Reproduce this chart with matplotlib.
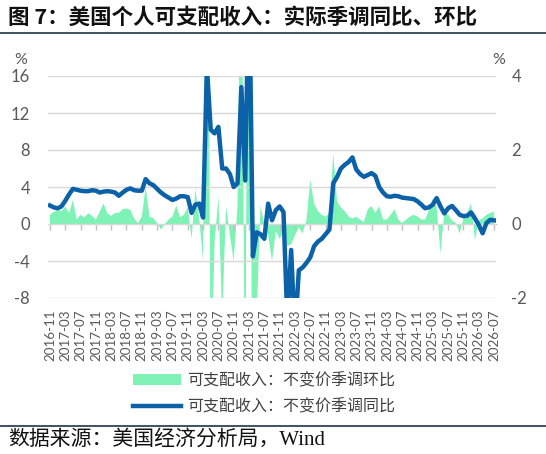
import matplotlib
matplotlib.use("Agg")
import matplotlib.pyplot as plt
from matplotlib.lines import Line2D
import numpy as np
import pandas as pd

# ---------------- data ----------------
months = [str(p) for p in pd.period_range("2016-11", "2026-07", freq="M")]

yoy = [2.0, 1.8, 1.7, 1.9, 2.5, 3.2, 3.8, 3.7, 3.6, 3.55,
       3.55, 3.65, 3.6, 3.4, 3.5, 3.55, 3.5, 3.4, 3.05, 3.4,
       3.7, 3.85, 3.65, 3.6, 3.6, 4.85, 4.4, 4.2, 3.8, 3.4,
       3.1, 2.85, 2.6, 2.75, 3.0, 3.0, 2.9, 1.2, 2.1, 2.2,
       0.7, 17.0, 10.2, 9.8, 10.5, 6.0, 6.0, 5.4, 4.0, 4.4,
       14.8, 4.7, 28.0, -3.5, -0.9, -1.1, -1.6, 2.2, 0.4, 1.5,
       1.9, 1.3, -10.5, -2.8, -12.0, -5.0, -4.7, -4.2, -3.6, -2.4,
       -1.9, -1.6, -1.1, -0.6, 4.4, 5.1, 6.0, 6.4, 6.7, 7.2,
       5.9, 5.4, 5.1, 5.3, 5.5, 5.2, 4.0, 3.4, 3.0, 2.95,
       3.05, 3.0, 2.85, 2.8, 2.75, 2.7, 2.45, 2.1, 1.7, 1.8,
       2.1, 2.8, 1.9, 1.15, 1.7, 1.95, 1.5, 1.0, 0.85, 0.9,
       1.25, 0.6, -0.1, -1.0, 0.1, 0.45, 0.4]

mom = [0.25, 0.33, 0.38, 0.35, 0.47, 0.3, 0.65, 0.12, 0.25, 0.18,
       0.29, 0.22, 0.12, 0.33, 0.56, 0.28, 0.22, 0.3, 0.3, 0.4,
       0.42, 0.38, 0.15, 0.02, 0.2, 1.0, 0.2, 0.16, 0.03, -0.15,
       0.0, 0.12, 0.2, 0.5, 0.18, 0.25, 0.45, -0.4, 0.95, 0.15,
       -1.0, 13.0, -4.5, -0.5, 0.75, -2.6, 0.47, -0.3, -1.0, 0.5,
       10.0, -7.0, 20.0, -13.0, -2.5, 0.5, 0.0, -0.3, -1.0, -0.2,
       -0.4, -0.2, -0.6, -0.55, -0.3, -0.1, -0.25, 0.1, 1.2, 0.55,
       0.35, 0.25, 0.2, 0.3, 1.9, 0.6, 0.45, 0.35, 0.2, 0.15,
       0.2, 0.12, 0.05, 0.4, 0.48, 0.3, 0.48, 0.12, 0.12, 0.25,
       0.4, 0.12, 0.03, 0.12, 0.2, 0.25, 0.2, 0.12, 0.12, 0.38,
       0.7, 0.45, -0.8, 0.3, 0.25, 0.1, 0.03, -0.25, 0.15, 0.3,
       0.56, -0.43, 0.1, 0.15, 0.25, 0.3, 0.33]

left_ticks = [-8, -4, 0, 4, 8, 12, 16]
right_ticks = [-2, 0, 2, 4]

title = "图 7：美国个人可支配收入：实际季调同比、环比"
label_mom = "可支配收入：不变价季调环比"
label_yoy = "可支配收入：不变价季调同比"
source = "数据来源：美国经济分析局，Wind"

# ---------------- style ----------------
GREEN = "#7FF2B6"
BLUE = "#0B62A8"
GRID = "#D9D9D9"
TXT = "#595959"
CJK = ["Noto Sans CJK SC", "DejaVu Sans"]

plt.rcParams["font.family"] = ["Lato", "Noto Sans CJK SC", "DejaVu Sans"]

fig = plt.figure(figsize=(5.46, 4.54), dpi=100)
ax = fig.add_axes([48 / 546, 1 - 298 / 454, 448 / 546, 222 / 454])
ax2 = ax.twinx()

x = np.arange(len(months))

ax2.fill_between(x, 0, mom, color=GREEN, linewidth=0, label=label_mom)
ax.plot(x, yoy, color=BLUE, lw=3.2, solid_joinstyle="round", label=label_yoy)

ax.set_zorder(ax2.get_zorder() + 1)
ax.patch.set_visible(False)

ax.set_xlim(-0.5, len(months) - 0.5)
ax.set_ylim(-8, 16)
ax2.set_ylim(-2, 4)
ax.set_yticks(left_ticks)
ax2.set_yticks(right_ticks)
ax.set_yticklabels([str(t) for t in left_ticks])
ax2.set_yticklabels([str(t) for t in right_ticks])

ax.yaxis.grid(True, color=GRID, lw=1)
ax.set_axisbelow(True)

tick_pos = x[::4]
ax.set_xticks(tick_pos)
ax.set_xticklabels([months[i] for i in tick_pos], rotation=90)
ax.tick_params(axis="x", length=0, pad=8, labelsize=9.6, labelcolor=TXT)
ax.tick_params(axis="y", length=0, pad=13, labelsize=12, labelcolor=TXT)
ax2.tick_params(axis="y", length=0, pad=11, labelsize=12, labelcolor=TXT)

for a in (ax, ax2):
    for s in a.spines.values():
        s.set_visible(False)

# zero axis line with tick marks
sec = ax.secondary_xaxis(1 / 3)
sec.set_xticks(tick_pos)
sec.set_xticklabels([])
sec.tick_params(axis="x", direction="out", length=4, width=1, color="#BFBFBF")
sec.spines["bottom"].set_color("#BFBFBF")
sec.spines["top"].set_visible(False)
for k in ("left", "right"):
    if k in sec.spines:
        sec.spines[k].set_visible(False)

# % labels
fig.text(21 / 546, 1 - 60 / 454, "%", ha="center", va="center", fontsize=11.5, color=TXT)
fig.text(499 / 546, 1 - 60 / 454, "%", ha="center", va="center", fontsize=11.5, color=TXT)

# title & source
fig.text(8 / 546, 1 - 17 / 454, title, ha="left", va="center", fontsize=15.5,
         fontweight="bold", family=CJK, color="#111111")
fig.add_artist(Line2D([0, 1], [1 - 33 / 454, 1 - 33 / 454], transform=fig.transFigure,
                      color="#203449", lw=1.2))
fig.add_artist(Line2D([0, 1], [1 - 426 / 454, 1 - 426 / 454], transform=fig.transFigure,
                      color="#203449", lw=1.2))
fig.text(8 / 546, 1 - 440 / 454, source, ha="left", va="center", fontsize=15,
         family=["Liberation Serif", "Noto Sans CJK SC"], color="#111111")

# legend
h1, l1 = ax2.get_legend_handles_labels()
h2, l2 = ax.get_legend_handles_labels()
leg = fig.legend(h1 + h2, l1 + l2, loc="center", bbox_to_anchor=(264 / 546, 1 - 394 / 454),
                 frameon=False, ncol=1, handlelength=3.0, handletextpad=0.4,
                 labelspacing=0.6, prop={"family": CJK, "size": 11.5})
for t in leg.get_texts():
    t.set_color("#404040")

fig.savefig("out.png", dpi=100)
